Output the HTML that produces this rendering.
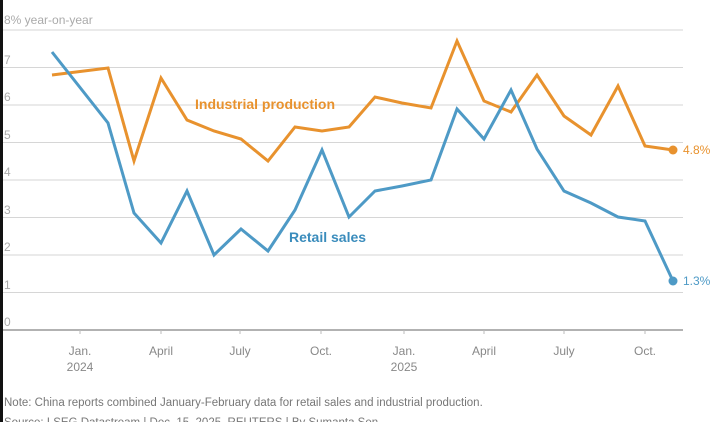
<!DOCTYPE html>
<html><head><style>
html,body{margin:0;padding:0;background:#fff;}
body{width:713px;height:422px;overflow:hidden;position:relative;font-family:"Liberation Sans",sans-serif;}
svg text{font-family:"Liberation Sans",sans-serif;}
</style></head><body>
<svg width="713" height="422" viewBox="0 0 713 422" xmlns="http://www.w3.org/2000/svg">
<rect x="0" y="0" width="713" height="422" fill="#fff"/>
<rect x="0" y="0" width="3" height="422" fill="#111"/>
<g stroke="#d6d6d6" stroke-width="1">
<line x1="3" x2="683" y1="30" y2="30"/>
<line x1="3" x2="683" y1="67.5" y2="67.5"/>
<line x1="3" x2="683" y1="105" y2="105"/>
<line x1="3" x2="683" y1="142.5" y2="142.5"/>
<line x1="3" x2="683" y1="180" y2="180"/>
<line x1="3" x2="683" y1="217.5" y2="217.5"/>
<line x1="3" x2="683" y1="255" y2="255"/>
<line x1="3" x2="683" y1="292.5" y2="292.5"/>
</g>
<line x1="3" x2="683" y1="330" y2="330" stroke="#999" stroke-width="1.5"/>
<g stroke="#bbb" stroke-width="1">
<line x1="80" x2="80" y1="330" y2="334"/><line x1="161" x2="161" y1="330" y2="334"/>
<line x1="240" x2="240" y1="330" y2="334"/><line x1="321" x2="321" y1="330" y2="334"/>
<line x1="404" x2="404" y1="330" y2="334"/><line x1="484" x2="484" y1="330" y2="334"/>
<line x1="564" x2="564" y1="330" y2="334"/><line x1="645" x2="645" y1="330" y2="334"/>
</g>
<g fill="#aaa" font-size="12">
<text x="4" y="24">8% year-on-year</text>
<text x="4" y="64">7</text><text x="4" y="101">6</text><text x="4" y="139">5</text>
<text x="4" y="176">4</text><text x="4" y="214">3</text><text x="4" y="251">2</text>
<text x="4" y="289">1</text><text x="4" y="326">0</text>
</g>
<g fill="#888" font-size="12" text-anchor="middle">
<text x="80" y="355">Jan.</text><text x="80" y="371">2024</text>
<text x="161" y="355">April</text><text x="240" y="355">July</text><text x="321" y="355">Oct.</text>
<text x="404" y="355">Jan.</text><text x="404" y="371">2025</text>
<text x="484" y="355">April</text><text x="564" y="355">July</text><text x="645" y="355">Oct.</text>
</g>
<polyline fill="none" stroke="#e8922e" stroke-width="3" stroke-linejoin="miter" points="52,75 108,68 134,161 161,78 187,120 214,131 241,139 268,161 295,127 322,131 349,127 375,97 402,103 431,108 457,41 484,101 511,112 537,75 564,116 591,135 618,86 645,146 673,150"/>
<polyline fill="none" stroke="#4e9ac6" stroke-width="3" stroke-linejoin="miter" points="52,52 108,123 134,213 161,243 187,191 214,255 241,229 268,251 295,210 322,150 349,217 375,191 402,186 431,180 457,109 484,139 511,90 537,149 564,191 591,203 618,217 645,221 673,281"/>
<circle cx="673" cy="150" r="4.5" fill="#e8922e"/>
<circle cx="673" cy="281" r="4.5" fill="#4e9ac6"/>
<text x="195" y="109" fill="#e8922e" font-size="14" font-weight="bold">Industrial production</text>
<text x="289" y="242" fill="#3a8cbc" font-size="14" font-weight="bold">Retail sales</text>
<text x="683" y="154" fill="#e8922e" font-size="12">4.8%</text>
<text x="683" y="285" fill="#4e9ac6" font-size="12">1.3%</text>
<text x="4" y="406" fill="#777" font-size="11.5">Note: China reports combined January-February data for retail sales and industrial production.</text>
<text x="4" y="426" fill="#777" font-size="11.5">Source: LSEG Datastream | Dec. 15, 2025. REUTERS | By Sumanta Sen</text>
</svg>
</body></html>
